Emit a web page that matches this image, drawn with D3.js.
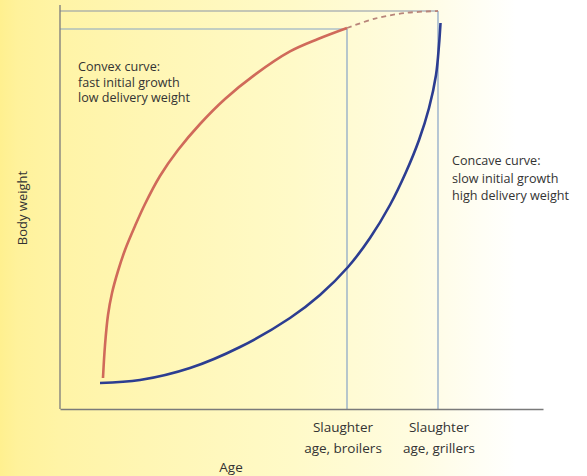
<!DOCTYPE html>
<html>
<head>
<meta charset="utf-8">
<script src="https://cdn.jsdelivr.net/npm/d3@7"></script>
<style>
  html, body { margin: 0; padding: 0; background: #fff; }
  svg { display: block; }
  text { font-family: "Open Sans", "Noto Sans", sans-serif; fill: #333; }
</style>
</head>
<body>
<svg id="chart" width="587" height="476"></svg>
<script>
// ---- data (arbitrary units: age 0-100, body weight 0-100) ----
const convexAge    = [8.90, 9.32, 9.94, 10.77, 12.01, 13.46, 15.53, 17.60, 20.70, 24.43, 28.99, 34.16, 40.37, 47.62, 53.42, 59.42];
const convexWeight = [7.75, 16, 23.5, 29, 34.5, 39.75, 45.75, 51.25, 58.25, 64.75, 71.25, 77.5, 83.6, 89.4, 92.5, 95.25];
const convexExtAge    = [59.42, 65.22, 71.43, 78.26];
const convexExtWeight = [95.25, 97.6, 99, 99.5];
const concaveAge    = [8.28, 16.56, 26.92, 37.27, 47.62, 53.83, 59.63, 64.18, 68.32, 71.64, 74.33, 76.40, 77.85, 78.47, 78.78];
const concaveWeight = [6.5, 7.25, 10.25, 15.5, 22.75, 28.5, 35.5, 42.75, 51, 59.25, 67.25, 75.25, 83.5, 91, 96.5];
const slaughterAges    = [59.42, 78.26];
const slaughterWeights = [95, 99.5];
const slaughterLabels  = [["Slaughter", "age, broilers"], ["Slaughter", "age, grillers"]];
const convexText  = ["Convex curve:", "fast initial growth", "low delivery weight"];
const concaveText = ["Concave curve:", "slow initial growth", "high delivery weight"];
const xTitle = "Age";
const yTitle = "Body weight";

const svg = d3.select("#chart");
const W = 587, H = 476;

// background gradient
const defs = svg.append("defs");
const grad = defs.append("linearGradient").attr("id", "bg").attr("x1", "0").attr("x2", "1").attr("y1", "0").attr("y2", "0");
[[0, "#fff08f"], [0.03, "#fff29b"], [0.1, "#fff4a6"], [0.25, "#fff6b4"], [0.5, "#fffac8"], [0.7, "#fffce0"], [0.88, "#ffffff"], [1, "#ffffff"]]
  .forEach(([o, c]) => grad.append("stop").attr("offset", o).attr("stop-color", c));
svg.append("rect").attr("width", W).attr("height", H).attr("fill", "url(#bg)");

const x = d3.scaleLinear().domain([0, 100]).range([60, 543]);
const y = d3.scaleLinear().domain([0, 100]).range([409, 9]);

const refColor = "#86a3c6";

// reference lines
slaughterAges.forEach((a, i) => {
  const w = slaughterWeights[i];
  svg.append("line").attr("x1", x(0)).attr("x2", x(a)).attr("y1", y(w)).attr("y2", y(w))
    .attr("stroke", i === 0 ? refColor : "#8a93a8").attr("stroke-width", 1.2);
  svg.append("line").attr("x1", x(a)).attr("x2", x(a)).attr("y1", y(w)).attr("y2", y(0))
    .attr("stroke", refColor).attr("stroke-width", 1.2);
});

// axes (no ticks)
const xAxis = d3.axisBottom(x).tickValues([]).tickSizeOuter(0);
const yAxis = d3.axisLeft(y).tickValues([]).tickSizeOuter(0);
const gx = svg.append("g").attr("transform", `translate(0,${y(0)})`).call(xAxis);
const gy = svg.append("g").attr("transform", `translate(${x(0)},0)`).call(yAxis);
gy.select(".domain").attr("d", `M0,${y(100) - 4}V${y(0)}`);
[gx, gy].forEach(g => g.select(".domain").attr("stroke", "#7a7a7a").attr("stroke-width", 1.3));

// curves
const line = d3.line().x(d => x(d[0])).y(d => y(d[1])).curve(d3.curveCatmullRom.alpha(0.5));
const convex = d3.zip(convexAge, convexWeight);
const convexExt = d3.zip(convexExtAge, convexExtWeight);
const concave = d3.zip(concaveAge, concaveWeight);

svg.append("path").datum(convexExt).attr("d", line).attr("fill", "none")
  .attr("stroke", "#b8857a").attr("stroke-width", 1.8).attr("stroke-dasharray", "5,4");
svg.append("path").datum(convex).attr("d", line).attr("fill", "none")
  .attr("stroke", "#d06a5a").attr("stroke-width", 2.6);
svg.append("path").datum(concave).attr("d", line).attr("fill", "none")
  .attr("stroke", "#2c3d91").attr("stroke-width", 2.6);

// annotations
const ann1 = svg.append("text").attr("x", 78).attr("y", 71).style("font-size", "12.6px");
convexText.forEach((t, i) => ann1.append("tspan").attr("x", 78).attr("dy", i ? 15.5 : 0).text(t));
const ann2 = svg.append("text").attr("x", 452).attr("y", 165).style("font-size", "12.6px");
concaveText.forEach((t, i) => ann2.append("tspan").attr("x", 452).attr("dy", i ? 17.5 : 0).text(t));

slaughterAges.forEach((a, i) => {
  const t = svg.append("text").attr("text-anchor", "middle").attr("y", 432).style("font-size", "13.5px");
  slaughterLabels[i].forEach((s, j) => t.append("tspan").attr("x", x(a) - 4 + i * 5).attr("dy", j ? 21 : 0).text(s));
});

svg.append("text").attr("x", 231).attr("y", 472).attr("text-anchor", "middle").style("font-size", "13.5px").text(xTitle);
svg.append("text").attr("transform", "translate(27,208) rotate(-90)").attr("text-anchor", "middle")
  .style("font-size", "13px").text(yTitle);
</script>
</body>
</html>
